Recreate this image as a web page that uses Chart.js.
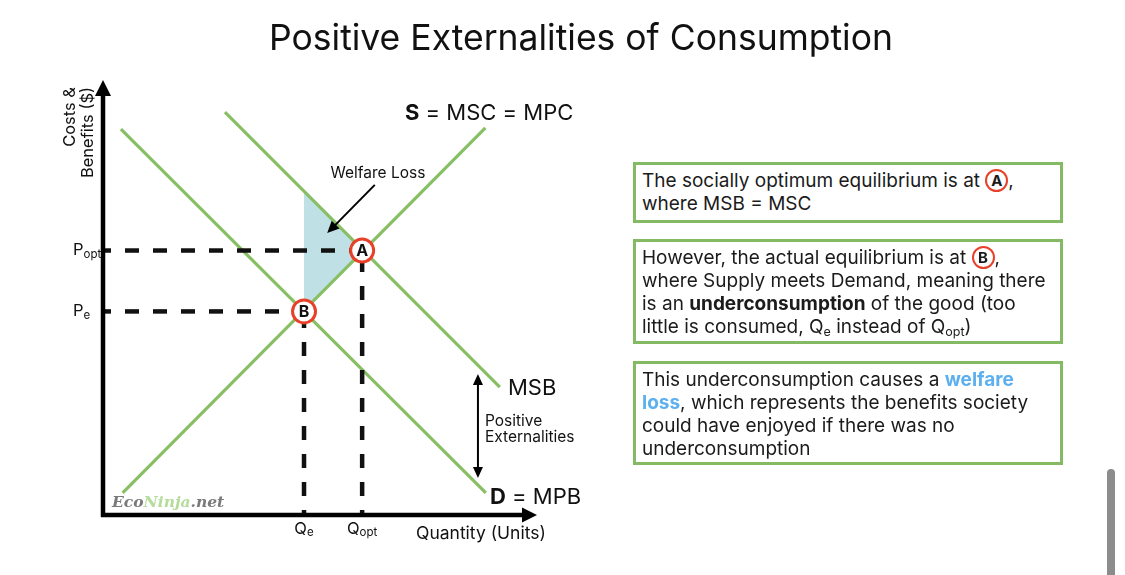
<!DOCTYPE html>
<html><head><meta charset="utf-8">
<script src="https://cdn.jsdelivr.net/npm/chart.js@4.4.0/dist/chart.umd.min.js"></script>
<style>
html,body{margin:0;padding:0;background:#fff;width:1125px;height:575px;overflow:hidden;font-family:Inter,"DejaVu Sans",sans-serif;}
#wrap{position:absolute;left:0;top:0;width:1125px;height:575px;}
.box{position:absolute;left:633px;width:430px;box-sizing:border-box;border:3px solid #84ba63;padding:4px 0 0 6px;font-size:19px;line-height:23px;color:#1b1b1b;white-space:nowrap;background:#fff;}
.circ{display:inline-block;width:19px;height:19px;border:2.5px solid #e8412a;border-radius:50%;text-align:center;line-height:19px;font-weight:700;font-size:15px;vertical-align:1px;}
sub{font-size:12.5px;vertical-align:-3px;line-height:0;}
.blue{color:#5db0f0;font-weight:700;}
#scroll{position:absolute;left:1107px;top:469px;width:8px;height:110px;background:#8c8c8c;border-radius:4px;}
</style>
</head><body>
<div id="wrap"><canvas id="c"></canvas></div>
<div class="box" style="top:162px;height:61px;">The socially optimum equilibrium is at <span class="circ">A</span>,<br>where MSB = MSC</div>
<div class="box" style="top:239px;height:105px;">However, the actual equilibrium is at <span class="circ">B</span>,<br>where Supply meets Demand, meaning there<br>is an <b>underconsumption</b> of the good (too<br>little is consumed, Q<sub>e</sub> instead of Q<sub>opt</sub>)</div>
<div class="box" style="top:361px;height:104px;">This underconsumption causes a <span class="blue">welfare<br>loss</span>, which represents the benefits society<br>could have enjoyed if there was no<br>underconsumption</div>
<div id="scroll"></div>
<script>
// ---- data (diagram units 0..100) ----
const supplyX = [4.5, 87.5];
const supplyY = [5.1, 89.0];
const msbX = [27.9, 90.8];
const msbY = [92.6, 29.4];
const demandX = [4.1, 87.6];
const demandY = [88.7, 5.06];
const pointA = [59.3, 60.8];   // Qopt, Popt
const pointB = [46.0, 46.8];   // Qe, Pe
const welfareTop = [46.0, 74.4];
const welfareArrow = [[62.2, 75.9], [51.3, 64.8]];
const extArrow = [[85.8, 32.4], [85.8, 8.5]];
const yTickLabels = [['P', 'opt'], ['P', 'e']];
const xTickLabels = [['Q', 'e'], ['Q', 'opt']];

const GREEN = '#88bf64', RED = '#e8412a', SHADE = '#bfe0e5';
const FONT = 'Inter, "DejaVu Sans", sans-serif';

function pts(xa, ya) { return xa.map((x, i) => ({x: x, y: ya[i]})); }
const dashStyle = {borderColor: '#111', borderWidth: 4.5, borderDash: [14, 14], pointRadius: 0, showLine: true, fill: false};

const datasets = [
  {label: 'eq', data: [{x: pointA[0], y: pointA[1]}, {x: pointB[0], y: pointB[1]}], showLine: false,
   pointRadius: 11.5, pointBorderWidth: 3, pointBorderColor: RED, pointBackgroundColor: '#fff', order: 0},
  Object.assign({label: 'poptH', data: [{x: 0, y: pointA[1]}, {x: pointA[0], y: pointA[1]}], borderDashOffset: 6, order: 1}, dashStyle),
  Object.assign({label: 'peH', data: [{x: 0, y: pointB[1]}, {x: pointB[0], y: pointB[1]}], borderDashOffset: 6, order: 1}, dashStyle),
  Object.assign({label: 'qeV', data: [{x: pointB[0], y: 0}, {x: pointB[0], y: pointB[1]}], borderDashOffset: 9, order: 1}, dashStyle),
  Object.assign({label: 'qoptV', data: [{x: pointA[0], y: 0}, {x: pointA[0], y: pointA[1]}], borderDashOffset: 9, order: 1}, dashStyle),
  {label: 'S', data: pts(supplyX, supplyY), showLine: true, borderColor: GREEN, borderWidth: 3.2, pointRadius: 0, order: 2},
  {label: 'MSB', data: pts(msbX, msbY), showLine: true, borderColor: GREEN, borderWidth: 3.2, pointRadius: 0, order: 2},
  {label: 'D', data: pts(demandX, demandY), showLine: true, borderColor: GREEN, borderWidth: 3.2, pointRadius: 0, order: 2},
  {label: 'welfare', data: [{x: pointB[0], y: pointB[1]}, {x: welfareTop[0], y: welfareTop[1]}, {x: pointA[0], y: pointA[1]}, {x: pointB[0], y: pointB[1]}],
   showLine: true, borderWidth: 0, borderColor: 'rgba(0,0,0,0)', backgroundColor: SHADE, fill: 'shape', pointRadius: 0, order: 5}
];

function drawParts(ctx, parts, x, y, align) {
  let w = 0;
  parts.forEach(p => { ctx.font = p.font; p.w = ctx.measureText(p.t).width; w += p.w; });
  let cx = align === 'center' ? x - w / 2 : (align === 'right' ? x - w : x);
  ctx.textAlign = 'left'; ctx.textBaseline = 'middle';
  parts.forEach(p => { ctx.font = p.font; ctx.fillStyle = p.color || '#111'; ctx.fillText(p.t, cx, y + (p.dy || 0)); cx += p.w; });
}
function arrowHead(ctx, x1, y1, x2, y2, len, half) {
  const a = Math.atan2(y2 - y1, x2 - x1);
  ctx.beginPath();
  ctx.moveTo(x2, y2);
  ctx.lineTo(x2 - len * Math.cos(a) + half * Math.sin(a), y2 - len * Math.sin(a) - half * Math.cos(a));
  ctx.lineTo(x2 - len * Math.cos(a) - half * Math.sin(a), y2 - len * Math.sin(a) + half * Math.cos(a));
  ctx.closePath(); ctx.fill();
}

const deco = {
  id: 'deco',
  afterDatasetsDraw(chart) {
    const ctx = chart.ctx, xs = chart.scales.x, ys = chart.scales.y, ca = chart.chartArea;
    const X = v => xs.getPixelForValue(v), Y = v => ys.getPixelForValue(v);
    ctx.save();
    ctx.fillStyle = '#111'; ctx.font = '700 16px ' + FONT; ctx.textAlign = 'center'; ctx.textBaseline = 'middle';
    ctx.fillText('A', X(pointA[0]), Y(pointA[1]) + 1);
    ctx.fillText('B', X(pointB[0]), Y(pointB[1]) + 1);
    // axes
    ctx.fillStyle = '#000'; ctx.strokeStyle = '#000'; ctx.lineWidth = 4.5; ctx.lineCap = 'butt';
    ctx.beginPath(); ctx.moveTo(ca.left, ca.bottom + 2); ctx.lineTo(ca.left, ca.top + 14); ctx.stroke();
    arrowHead(ctx, ca.left, ca.bottom, ca.left, ca.top, 16, 8);
    ctx.beginPath(); ctx.moveTo(ca.left - 2, ca.bottom); ctx.lineTo(ca.right - 14, ca.bottom); ctx.stroke();
    arrowHead(ctx, ca.left, ca.bottom, ca.right - 3, ca.bottom, 15, 7.5);
    // welfare loss arrow
    ctx.lineWidth = 2;
    const w0 = [X(welfareArrow[0][0]), Y(welfareArrow[0][1])], w1 = [X(welfareArrow[1][0]), Y(welfareArrow[1][1])];
    ctx.beginPath(); ctx.moveTo(w0[0], w0[1]); ctx.lineTo(w1[0] + 5, w1[1] - 5); ctx.stroke();
    arrowHead(ctx, w0[0], w0[1], w1[0], w1[1], 12, 5.5);
    // externality double arrow
    const e0 = [X(extArrow[0][0]), Y(extArrow[0][1])], e1 = [X(extArrow[1][0]), Y(extArrow[1][1])];
    ctx.beginPath(); ctx.moveTo(e0[0], e0[1] + 8); ctx.lineTo(e1[0], e1[1] - 8); ctx.stroke();
    arrowHead(ctx, e1[0], e1[1], e0[0], e0[1], 11, 5);
    arrowHead(ctx, e0[0], e0[1], e1[0], e1[1], 11, 5);
    // tick labels
    const yv = [pointA[1], pointB[1]];
    yTickLabels.forEach((l, i) => drawParts(ctx, [{t: l[0], font: '400 16.5px ' + FONT}, {t: l[1], font: '400 11.5px ' + FONT, dy: 4}], 73, Y(yv[i]), 'left'));
    const xv = [pointB[0], pointA[0]];
    xTickLabels.forEach((l, i) => drawParts(ctx, [{t: l[0], font: '400 16.5px ' + FONT}, {t: l[1], font: '400 11.5px ' + FONT, dy: 4}], X(xv[i]), ca.bottom + 14, 'center'));
    // axis titles
    drawParts(ctx, [{t: 'Quantity (Units)', font: '400 17.5px ' + FONT}], 416, 534, 'left');
    ctx.save(); ctx.translate(70, 87); ctx.rotate(-Math.PI / 2);
    ctx.font = '400 16.5px ' + FONT; ctx.fillStyle = '#111'; ctx.textAlign = 'right'; ctx.textBaseline = 'middle';
    ctx.fillText('Costs &', 0, 0); ctx.fillText('Benefits ($)', 0, 18);
    ctx.restore();
    // curve labels
    drawParts(ctx, [{t: 'S', font: '700 22px ' + FONT}, {t: ' = MSC = MPC', font: '400 22px ' + FONT}], 405, 113, 'left');
    drawParts(ctx, [{t: 'MSB', font: '400 22px ' + FONT}], 508, 388, 'left');
    drawParts(ctx, [{t: 'D', font: '700 22px ' + FONT}, {t: ' = MPB', font: '400 22px ' + FONT}], 490, 497, 'left');
    drawParts(ctx, [{t: 'Welfare Loss', font: '400 15.5px ' + FONT}], 378, 173, 'center');
    drawParts(ctx, [{t: 'Positive', font: '400 15.5px ' + FONT}], 485, 421, 'left');
    drawParts(ctx, [{t: 'Externalities', font: '400 15.5px ' + FONT}], 485, 437, 'left');
    // watermark
    const wf = 'italic 700 15.5px "DejaVu Serif", serif';
    drawParts(ctx, [{t: 'Eco', font: wf, color: '#7a7a7a'}, {t: 'Ninja', font: wf, color: '#b6dc9c'}, {t: '.net', font: wf, color: '#7a7a7a'}], 112, 503, 'left');
    // title
    drawParts(ctx, [{t: 'Positive Externalities of Consumption', font: '400 35.5px ' + FONT, color: '#111'}], 581, 39, 'center');
    ctx.restore();
  }
};

new Chart(document.getElementById('c'), {
  type: 'scatter',
  data: {datasets: datasets},
  options: {
    responsive: true, maintainAspectRatio: false, animation: false,
    layout: {padding: {left: 103, right: 585, top: 80, bottom: 60}},
    scales: {
      x: {type: 'linear', min: 0, max: 100, display: false},
      y: {type: 'linear', min: 0, max: 100, display: false}
    },
    plugins: {legend: {display: false}, tooltip: {enabled: false}, title: {display: false}},
    elements: {line: {tension: 0}}
  },
  plugins: [deco]
});
</script>
</body></html>
